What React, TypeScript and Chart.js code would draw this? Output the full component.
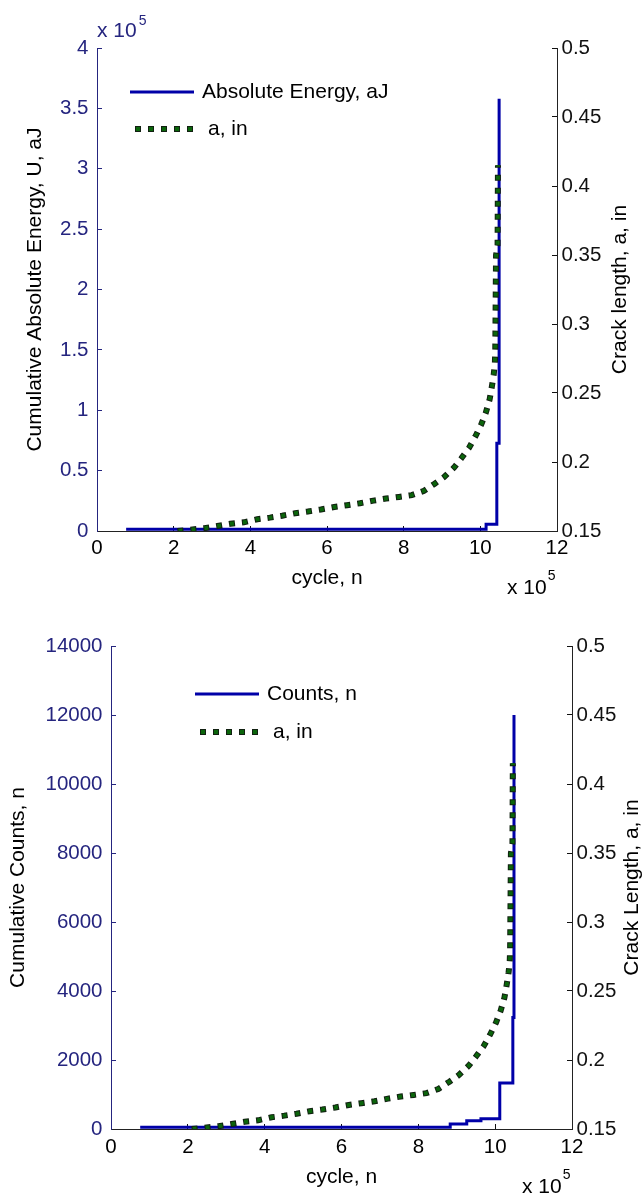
import React, { useEffect, useRef } from "react";
import { Chart, registerables } from "chart.js";

Chart.register(...registerables);

// ---------- data (cycles in units of 10^5) ----------
const xTicks = [0, 2, 4, 6, 8, 10, 12];

// crack length, a (in) — shared by both panels
const crackCycles = [
  2.1, 2.44, 2.8, 3.14, 3.48, 3.83, 4.18, 4.51, 4.83, 5.17, 5.5, 5.84, 6.19,
  6.52, 6.86, 7.21, 7.54, 7.88, 8.21, 8.52, 8.81, 9.05, 9.31, 9.5, 9.7, 9.87,
  10.02, 10.14, 10.24, 10.3, 10.35, 10.38, 10.39, 10.41, 10.45, 10.46,
];
const crackLengths = [
  0.15, 0.151, 0.152, 0.1536, 0.1552, 0.1563, 0.1585, 0.1597, 0.1611, 0.1629,
  0.1641, 0.1656, 0.1674, 0.1687, 0.1701, 0.172, 0.1735, 0.1747, 0.176, 0.179,
  0.1843, 0.189, 0.1958, 0.2025, 0.21, 0.2185, 0.227, 0.2355, 0.245, 0.2545,
  0.2635, 0.272, 0.282, 0.35, 0.357, 0.415,
];

// top panel: cumulative absolute energy (x 10^5 aJ), step changes
const energyCycles = [0.76, 10.15, 10.43, 10.49];
const energyValues = [0.014, 0.055, 0.726, 3.58];
const energyTicks = [0, 0.5, 1, 1.5, 2, 2.5, 3, 3.5, 4];

// bottom panel: cumulative counts, step changes
const countCycles = [0.76, 8.83, 9.26, 9.63, 10.12, 10.46, 10.49];
const countValues = [50, 145, 240, 300, 1330, 3230, 12000];
const countTicks = [0, 2000, 4000, 6000, 8000, 10000, 12000, 14000];

const crackTicks = [0.15, 0.2, 0.25, 0.3, 0.35, 0.4, 0.45, 0.5];

// ---------- styles ----------
const FONT = '"Liberation Sans", Arial, Helvetica, sans-serif';
const BLUE = "#0000a8";
const NAVY = "#25257f";
const GREEN = "#0b650b";
const EDGE = "#112011";
const BLACK = "#000000";

type Panel = {
  height: number;
  top: number;
  leftWidth: number;
  rightWidth: number;
  xHeight: number;
  xPad: number;
  leftCycles: number[];
  leftValues: number[];
  leftTicks: number[];
  leftLabel: string;
  leftTitle: string;
  leftTitleX: number;
  rightTitle: string;
  rightTitleX: number;
  xTitleY: number;
  expX: number;
  expY: number;
  topExp: boolean;
  legendLineX: [number, number];
  legendDotX: [number, number];
  legendY: [number, number];
  legendTextX: [number, number];
};

const panels: Panel[] = [
  {
    height: 600,
    top: 48,
    leftWidth: 97,
    rightWidth: 87,
    xHeight: 69,
    xPad: 10.5,
    leftCycles: energyCycles,
    leftValues: energyValues,
    leftTicks: energyTicks,
    leftLabel: "Absolute Energy, aJ",
    leftTitle: "Cumulative Absolute Energy, U, aJ",
    leftTitleX: 35,
    rightTitle: "Crack length, a, in",
    rightTitleX: 620,
    xTitleY: 578,
    expX: 507,
    expY: 588,
    topExp: true,
    legendLineX: [130, 194],
    legendDotX: [135, 194],
    legendY: [92, 129],
    legendTextX: [202, 208],
  },
  {
    height: 598,
    top: 46,
    leftWidth: 111,
    rightWidth: 72,
    xHeight: 69,
    xPad: 11.5,
    leftCycles: countCycles,
    leftValues: countValues,
    leftTicks: countTicks,
    leftLabel: "Counts, n",
    leftTitle: "Cumulative Counts, n",
    leftTitleX: 18,
    rightTitle: "Crack Length, a, in",
    rightTitleX: 632,
    xTitleY: 577,
    expX: 522,
    expY: 587,
    topExp: false,
    legendLineX: [195, 259],
    legendDotX: [200, 259],
    legendY: [94, 132],
    legendTextX: [267, 273],
  },
];

function fmt(v: number) {
  return String(Math.round(v * 1000) / 1000);
}

function makeDeco(p: Panel) {
  return {
    id: "deco",
    afterDraw(chart: any) {
      const ctx: CanvasRenderingContext2D = chart.ctx;
      const area = chart.chartArea;
      ctx.save();
      ctx.textBaseline = "middle";
      // y titles (both read bottom-to-top)
      const cy = (area.top + area.bottom) / 2;
      ctx.font = `21px ${FONT}`;
      ctx.fillStyle = BLACK;
      ctx.textAlign = "center";
      for (const [t, x] of [
        [p.leftTitle, p.leftTitleX],
        [p.rightTitle, p.rightTitleX],
      ] as [string, number][]) {
        ctx.save();
        ctx.translate(x, cy);
        ctx.rotate(-Math.PI / 2);
        ctx.fillText(t, 0, 0);
        ctx.restore();
      }
      // x title
      ctx.fillText("cycle, n", (area.left + area.right) / 2, p.xTitleY);
      // x exponent
      ctx.textAlign = "left";
      ctx.fillText("x 10", p.expX, p.expY);
      const w = ctx.measureText("x 10").width;
      ctx.font = `14px ${FONT}`;
      ctx.fillText("5", p.expX + w + 1, p.expY - 12);
      // y exponent (top-left)
      if (p.topExp) {
        ctx.font = `21px ${FONT}`;
        ctx.fillStyle = NAVY;
        ctx.fillText("x 10", area.left, 31);
        const w2 = ctx.measureText("x 10").width;
        ctx.font = `14px ${FONT}`;
        ctx.fillText("5", area.left + w2 + 2, 21);
      }
      // legend
      ctx.strokeStyle = BLUE;
      ctx.lineWidth = 3;
      ctx.beginPath();
      ctx.moveTo(p.legendLineX[0], p.legendY[0]);
      ctx.lineTo(p.legendLineX[1], p.legendY[0]);
      ctx.stroke();
      ctx.setLineDash([6, 7]);
      ctx.strokeStyle = EDGE;
      ctx.lineWidth = 6;
      ctx.beginPath();
      ctx.moveTo(p.legendDotX[0], p.legendY[1]);
      ctx.lineTo(p.legendDotX[1], p.legendY[1]);
      ctx.stroke();
      ctx.setLineDash([4, 9]);
      ctx.lineDashOffset = -1;
      ctx.strokeStyle = GREEN;
      ctx.lineWidth = 4;
      ctx.beginPath();
      ctx.moveTo(p.legendDotX[0], p.legendY[1]);
      ctx.lineTo(p.legendDotX[1], p.legendY[1]);
      ctx.stroke();
      ctx.setLineDash([]);
      ctx.font = `21px ${FONT}`;
      ctx.fillStyle = BLACK;
      ctx.textAlign = "left";
      ctx.fillText(p.leftLabel, p.legendTextX[0], p.legendY[0]);
      ctx.fillText("a, in", p.legendTextX[1], p.legendY[1]);
      ctx.restore();
    },
  };
}

function makeConfig(p: Panel): any {
  const crackData = crackCycles.map((c, i) => ({ x: c, y: crackLengths[i] }));
  const leftData = p.leftCycles.map((c, i) => ({ x: c, y: p.leftValues[i] }));
  const tickFont = { family: FONT, size: 20.5 };
  return {
    type: "line",
    data: {
      datasets: [
        {
          label: p.leftLabel,
          data: leftData,
          yAxisID: "y",
          stepped: true,
          borderColor: BLUE,
          borderWidth: 3,
          pointRadius: 0,
          fill: false,
          order: 3,
        },
        {
          label: "a, in (edge)",
          data: crackData,
          yAxisID: "y1",
          borderColor: EDGE,
          borderWidth: 6,
          borderDash: [6, 7],
          pointRadius: 0,
          fill: false,
          order: 2,
        },
        {
          label: "a, in",
          data: crackData,
          yAxisID: "y1",
          borderColor: GREEN,
          borderWidth: 4,
          borderDash: [4, 9],
          borderDashOffset: -1,
          pointRadius: 0,
          fill: false,
          order: 1,
        },
      ],
    },
    options: {
      animation: false,
      responsive: false,
      devicePixelRatio: 1,
      events: [],
      layout: { padding: { top: p.top, left: 0, right: 0, bottom: 0 } },
      plugins: { legend: { display: false }, tooltip: { enabled: false } },
      scales: {
        x: {
          type: "linear",
          position: "bottom",
          min: xTicks[0],
          max: xTicks[xTicks.length - 1],
          afterBuildTicks: (s: any) => {
            s.ticks = xTicks.map((v) => ({ value: v }));
          },
          ticks: {
            color: BLACK,
            font: tickFont,
            padding: p.xPad,
            maxRotation: 0,
            autoSkip: false,
            callback: (v: number) => fmt(v),
          },
          grid: { drawOnChartArea: false, drawTicks: true, tickLength: -5, color: "#111" },
          border: { display: true, color: "#222", width: 1 },
          afterFit: (s: any) => {
            s.height = p.xHeight;
          },
        },
        y: {
          type: "linear",
          position: "left",
          min: p.leftTicks[0],
          max: p.leftTicks[p.leftTicks.length - 1],
          afterBuildTicks: (s: any) => {
            s.ticks = p.leftTicks.map((v) => ({ value: v }));
          },
          ticks: {
            color: NAVY,
            font: tickFont,
            padding: 13.5,
            autoSkip: false,
            callback: (v: number) => fmt(v),
          },
          grid: { drawOnChartArea: false, drawTicks: true, tickLength: -5, color: NAVY },
          border: { display: true, color: NAVY, width: 1 },
          afterFit: (s: any) => {
            s.width = p.leftWidth;
          },
        },
        y1: {
          type: "linear",
          position: "right",
          min: crackTicks[0],
          max: crackTicks[crackTicks.length - 1],
          afterBuildTicks: (s: any) => {
            s.ticks = crackTicks.map((v) => ({ value: v }));
          },
          ticks: {
            color: "#111",
            font: tickFont,
            padding: 9.5,
            autoSkip: false,
            callback: (v: number) => fmt(v),
          },
          grid: { drawOnChartArea: false, drawTicks: true, tickLength: -5, color: "#111" },
          border: { display: true, color: "#222", width: 1 },
          afterFit: (s: any) => {
            s.width = p.rightWidth;
          },
        },
      },
    },
    plugins: [makeDeco(p)],
  };
}

function PanelChart({ p }: { p: Panel }) {
  const ref = useRef<HTMLCanvasElement | null>(null);
  useEffect(() => {
    if (!ref.current) return;
    const chart = new Chart(ref.current, makeConfig(p));
    return () => chart.destroy();
  }, [p]);
  return (
    <canvas
      ref={ref}
      width={644}
      height={p.height}
      style={{ display: "block", width: 644, height: p.height }}
    />
  );
}

export default function App() {
  return (
    <div
      style={{
        position: "absolute",
        left: 0,
        top: 0,
        width: 644,
        height: 1198,
        background: "#ffffff",
      }}
    >
      {panels.map((p, i) => (
        <PanelChart key={i} p={p} />
      ))}
    </div>
  );
}
